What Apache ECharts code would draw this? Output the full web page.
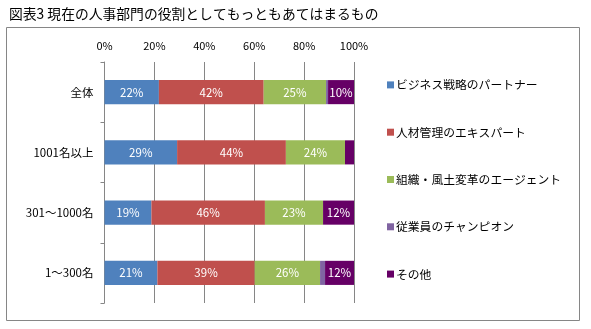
<!DOCTYPE html>
<html><head><meta charset="utf-8">
<script src="https://cdn.jsdelivr.net/npm/echarts@6/dist/echarts.min.js"></script>
<style>html,body{margin:0;padding:0;background:#fff}#c{width:591px;height:329px}</style>
</head><body><div id="c"></div>
<script>
const title = '図表3 現在の人事部門の役割としてもっともあてはまるもの';
const categories = ['全体', '1001名以上', '301～1000名', '1～300名'];
const seriesNames = ['ビジネス戦略のパートナー', '人材管理のエキスパート', '組織・風土変革のエージェント', '従業員のチャンピオン', 'その他'];
const partner = [21.8, 29.1, 18.8, 21.2];
const expert = [42.0, 43.6, 45.5, 39.0];
const agent = [25.0, 23.7, 23.3, 26.2];
const champion = [0.8, 0, 0, 2.0];
const other = [10.4, 3.6, 12.4, 11.6];
const xTicks = [0, 20, 40, 60, 80, 100];
const colors = ['#4F81BD', '#C0504D', '#9BBB59', '#8064A2', '#660066'];
const seriesData = [partner, expert, agent, champion, other];
const showLabel = [true, true, true, false, true];
const FONT = '"Noto Sans CJK JP", sans-serif';

const chart = echarts.init(document.getElementById('c'), null, {renderer: 'canvas'});
chart.setOption({
  animation: false,
  color: colors,
  textStyle: {fontFamily: FONT},
  title: {text: title, left: 4, top: 2, textStyle: {fontSize: 13.8, fontWeight: 'normal', color: '#000', fontFamily: FONT}},
  graphic: [{type: 'rect', shape: {x: 6.5, y: 27.5, width: 573, height: 293}, style: {fill: 'none', stroke: '#868686', lineWidth: 1}, z: -1}],
  legend: {
    orient: 'vertical', left: 382, top: 74, itemWidth: 7, itemHeight: 7, icon: 'rect', itemGap: 35.5,
    textStyle: {fontSize: 11.8, color: '#000', fontFamily: FONT, padding: [0, 0, 0, -3]},
    data: seriesNames
  },
  grid: {left: 104.5, right: 237, top: 62, bottom: 26},
  xAxis: {
    type: 'value', position: 'top', min: 0, max: 100, interval: 20,
    axisLine: {show: false}, axisTick: {show: false},
    axisLabel: {formatter: v => xTicks.includes(v) ? v + '%' : '', fontSize: 11, color: '#000', margin: 11, fontFamily: FONT},
    splitLine: {show: true, lineStyle: {color: '#868686', width: 1}}
  },
  yAxis: {
    type: 'category', inverse: true, data: categories,
    axisLine: {show: true, lineStyle: {color: '#868686'}},
    axisTick: {show: true, length: 4, lineStyle: {color: '#868686'}},
    axisLabel: {fontSize: 11.5, color: '#000', margin: 11, fontFamily: FONT}
  },
  series: seriesNames.map((n, i) => ({
    name: n, type: 'bar', stack: 'total', barWidth: '40%', data: seriesData[i],
    label: {
      show: showLabel[i], position: 'inside', color: '#fff', fontSize: 11.5, fontFamily: FONT,
      formatter: p => p.value >= 5 ? Math.round(p.value) + '%' : ''
    }
  }))
});
</script></body></html>
